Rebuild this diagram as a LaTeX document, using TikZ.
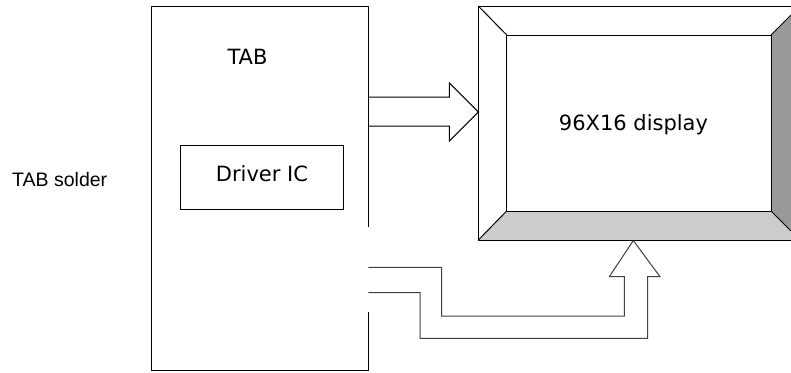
\documentclass[tikz,border=0pt]{standalone}
\usepackage{fontspec}
\setmainfont{DejaVu Sans}
\newfontfamily\arialfont{Liberation Sans}
\begin{document}
\begin{tikzpicture}[x=1pt,y=-1pt,
  outline/.style={draw=black,line width=1pt,line join=miter},
  busline/.style={draw=black!75,line width=1pt,line join=miter},
  label/.style={inner sep=0pt,font=\fontsize{21}{24}\selectfont},
  sidelabel/.style={inner sep=0pt,font=\arialfont\fontsize{19.5}{22}\selectfont}]
\useasboundingbox (0,0) rectangle (791,372);
\begin{scope}
\clip (0,0) rectangle (791,372);

% TAB carrier; its right edge is open where the second bus leaves
\draw[outline] (368.3,227) -- (368.3,6) -- (151.7,6) -- (151.7,370) -- (368.3,370) -- (368.3,312);
\node[label,anchor=base] (tab) at (247.5,64) {TAB};

% driver chip
\node[draw,line width=1pt,minimum width=162.6pt,minimum height=64pt,inner sep=0pt] (ic) at (262,177) {};
\node[label,anchor=base] (iclabel) at (262,181.7) {Driver IC};

% display panel with bevelled frame
\coordinate (oTL) at (478.3,6);
\coordinate (oTR) at (800,6);
\coordinate (oBR) at (800,240);
\coordinate (oBL) at (478.3,240);
\coordinate (iTL) at (506.7,35);
\coordinate (iTR) at (771,35);
\coordinate (iBR) at (771,211);
\coordinate (iBL) at (506.7,211);
\fill[white] (oTL) rectangle (oBR);
\fill[black!40] (iTR) -- (oTR) -- (oBR) -- (iBR) -- cycle;
\fill[black!20] (iBL) -- (iBR) -- (oBR) -- (oBL) -- cycle;
\draw[outline] (oTL) -- (oTR) -- (oBR) -- (oBL) -- cycle;
\draw[outline] (iTL) -- (iTR) -- (iBR) -- (iBL) -- cycle;
\draw[outline] (oTL) -- (iTL) (oTR) -- (iTR) (oBR) -- (iBR) (oBL) -- (iBL);
\node[label,anchor=base] (disp) at (633.5,130) {96X16 display};

% bus from the TAB into the left side of the display
\draw[outline] (368.3,97) -- (449.3,97) -- (449.3,83) -- (478.3,112)
  -- (449.3,141) -- (449.3,126) -- (368.3,126);

% bus from the TAB up into the bottom of the display
\draw[busline] (368.3,267.3) -- (441.7,267.3) -- (441.7,316) -- (624.3,316)
  -- (624.3,276.7) -- (609.3,276.7) -- (633.3,240.5) -- (660,276.7)
  -- (647.5,276.7) -- (647.5,338.3) -- (420,338.3) -- (420,292.7) -- (368.3,292.7);

\node[sidelabel,anchor=base west] (solder) at (12,186) {TAB solder};
\end{scope}
\end{tikzpicture}
\end{document}
